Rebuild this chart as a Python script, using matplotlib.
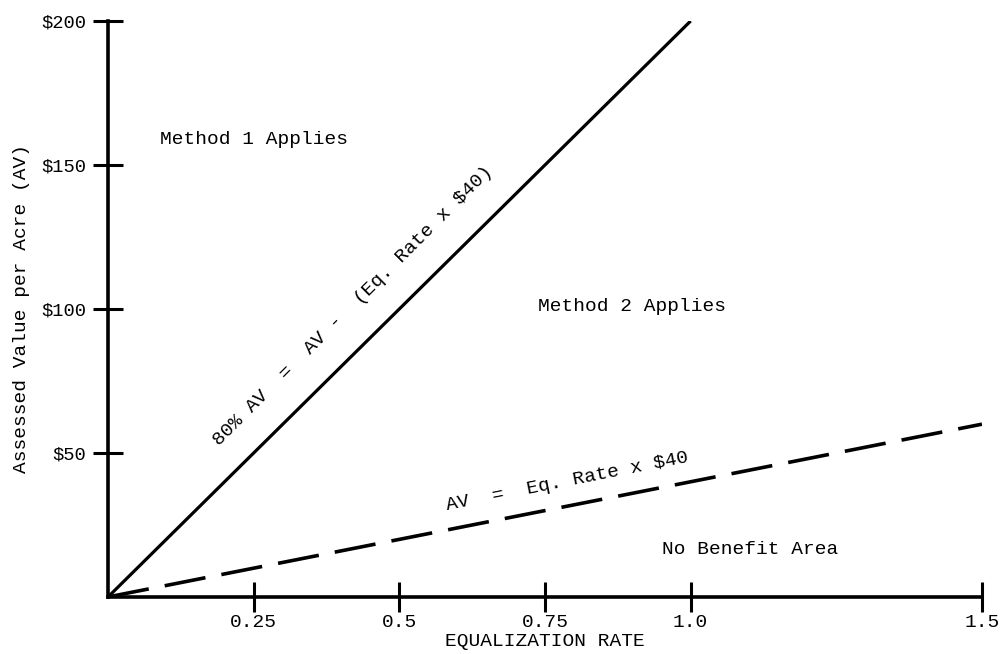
import numpy as np
import matplotlib.pyplot as plt

# equalization rate axis and the two boundary lines
rate = [0.0, 1.0, 1.5]
av_solid = [0.0, 200.0]          # 80% AV = AV - (Eq. Rate x $40)  ->  AV = 200 * rate
av_dashed = [0.0, 60.0]          # AV = Eq. Rate x $40
x_ticks = [0.25, 0.5, 0.75, 1.0, 1.5]
x_labels = ['0.25', '0.5', '0.75', '1.0', '1.5']
y_ticks = [50, 100, 150, 200]
y_labels = ['$50', '$100', '$150', '$200']

plt.rcParams['font.family'] = ['Liberation Mono', 'DejaVu Sans Mono']

fig = plt.figure(figsize=(10.02, 6.54), dpi=100)
ax = fig.add_axes([0.1078, 0.0872, 0.980 - 0.1078, 0.9679 - 0.0872])

ax.plot(rate[:2], av_solid, color='black', lw=2.3, solid_capstyle='butt')
ax.plot([rate[0], rate[2]], av_dashed, color='black', lw=2.6,
        dashes=(11.5, 4.5))

ax.set_xlim(0, 1.5)
ax.set_ylim(0, 200)
for s in ['top', 'right']:
    ax.spines[s].set_visible(False)
for s in ['left', 'bottom']:
    ax.spines[s].set_linewidth(2.6)

ax.set_xticks(x_ticks)
ax.set_xticklabels(x_labels, fontsize=14)
ax.set_yticks(y_ticks)
ax.set_yticklabels(y_labels, fontsize=13.5)
ax.tick_params(axis='both', direction='inout', length=21, width=2.2)
ax.tick_params(axis='x', pad=2)
ax.tick_params(axis='y', pad=5)

ax.set_xlabel('EQUALIZATION RATE', fontsize=14, labelpad=1)
ax.set_ylabel('Assessed Value per Acre (AV)', fontsize=14, labelpad=8)

ax.text(0.09, 158.7, 'Method 1 Applies', fontsize=14, va='center', ha='left')
ax.text(0.738, 100.9, 'Method 2 Applies', fontsize=14, va='center', ha='left')
ax.text(0.95, 16.6, 'No Benefit Area', fontsize=14, va='center', ha='left')

ax.text(0.42, 100.9, '80% AV  =  AV -  (Eq. Rate x $40)', fontsize=14,
        rotation=45, ha='center', va='center', rotation_mode='anchor')
ax.text(0.789, 40.0, 'AV  =  Eq. Rate x $40', fontsize=14,
        rotation=11.3, ha='center', va='center', rotation_mode='anchor')

fig.savefig('out.png', dpi=100)
